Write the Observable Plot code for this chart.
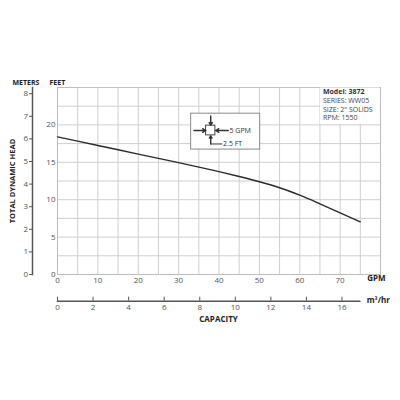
<!DOCTYPE html>
<html>
<head>
<meta charset="utf-8">
<script src="https://cdn.jsdelivr.net/npm/d3@7"></script>
<script src="https://cdn.jsdelivr.net/npm/@observablehq/plot@0.6"></script>
<style>
  html, body { margin: 0; padding: 0; background: #fff; }
  #wrap { position: relative; width: 400px; height: 400px; font-family: "Open Sans", sans-serif; }
  #wrap svg { position: absolute; left: 0; top: 0; }
</style>
</head>
<body>
<div id="wrap"></div>
<script>
// ---- data ----
const gpm  = [0, 10, 20, 30, 40, 45, 50, 55, 60, 65, 70, 75];
const head = [18.4, 17.25, 16.1, 14.95, 13.75, 13.1, 12.4, 11.6, 10.6, 9.45, 8.25, 7.05];
const gpmTicks = [0, 10, 20, 30, 40, 50, 60, 70];
const feetTicks = [0, 5, 10, 15, 20];
const meterTicks = [0, 1, 2, 3, 4, 5, 6, 7, 8];
const m3Ticks = [0, 2, 4, 6, 8, 10, 12, 14, 16];
const gridGpm = d3.range(0, 81, 5);
const gridFeet = d3.range(0, 25.1, 2.5);
const modelTitle = ["Model: 3872"];
const modelLines = ["SERIES: WW05\nSIZE: 2\" SOLIDS\nRPM: 1550"];
// grid-cell key (annotation, in GPM / feet)
const keyBox = [{x1: 33.1, x2: 50.2, y1: 16.7, y2: 21.5}];
const keySquare = [{x1: 36.8, x2: 39.1, y1: 18.6, y2: 19.9}];
const keyArrows = [
  {x1: 37.95, y1: 21.2, x2: 37.95, y2: 19.95},
  {x1: 33.8, y1: 19.25, x2: 36.75, y2: 19.25},
  {x1: 42.3, y1: 19.25, x2: 39.15, y2: 19.25},
  {x1: 37.95, y1: 17.45, x2: 37.95, y2: 18.55}
];
const keyLinks = [{x1: 37.95, y1: 17.45, x2: 40.8, y2: 17.45}];
const keyTexts = [{x: 42.6, y: 19.25, t: "5 GPM"}, {x: 41.0, y: 17.45, t: "2.5 FT"}];

const data = gpm.map((g, i) => ({gpm: g, head: head[i]}));
const W = 400, H = 400;
const mTop = 87, mBottom = 126, mLeft = 57, mRight = 20;
const dark = "#222", tickCol = "#555";

const main = Plot.plot({
  width: W, height: H,
  marginTop: mTop, marginBottom: mBottom, marginLeft: mLeft, marginRight: mRight,
  style: {fontFamily: "Open Sans", fontSize: "8px", background: "transparent", color: tickCol},
  x: {domain: [0, 80]},
  y: {domain: [0, 25]},
  marks: [
    Plot.gridX(gridGpm, {stroke: "#cfcfcf", strokeOpacity: 1}),
    Plot.gridY(gridFeet, {stroke: "#cfcfcf", strokeOpacity: 1}),
    Plot.frame({stroke: "#bdbdbd"}),
    Plot.rect([0], {x1: 65, x2: 80, y1: 20, y2: 25, fill: "white", inset: 0.5}),
    Plot.text(modelTitle, {x: 65, y: 25, dx: 3, dy: 2, lineAnchor: "top", textAnchor: "start", fontWeight: "bold", fontSize: 7, fill: "#333"}),
    Plot.text(modelLines, {x: 65, y: 25, dx: 3, dy: 10, lineAnchor: "top", textAnchor: "start", fontSize: 7, lineHeight: 1.18, fill: "#444"}),
    Plot.rect(keyBox, {x1: "x1", x2: "x2", y1: "y1", y2: "y2", fill: "white", stroke: "#8a8a8a"}),
    Plot.rect(keySquare, {x1: "x1", x2: "x2", y1: "y1", y2: "y2", fill: "white", stroke: "#444"}),
    Plot.arrow(keyArrows, {x1: "x1", y1: "y1", x2: "x2", y2: "y2", stroke: "#333", headLength: 4, strokeWidth: 1.4}),
    Plot.link(keyLinks, {x1: "x1", y1: "y1", x2: "x2", y2: "y2", stroke: "#333"}),
    Plot.text(keyTexts, {x: "x", y: "y", text: "t", textAnchor: "start", fontSize: 7, fill: "#333"}),
    Plot.line(data, {x: "gpm", y: "head", stroke: "#2b2b2b", strokeWidth: 1.4, curve: "monotone-x"}),
    Plot.axisX({ticks: gpmTicks, tickSize: 0, tickPadding: 3, label: null}),
    Plot.axisY({ticks: feetTicks, tickSize: 0, tickPadding: 2, label: null}),
    Plot.text(["GPM"], {frameAnchor: "bottom-right", textAnchor: "end", dx: 5, dy: 6, fontWeight: "bold", fontSize: 8, fill: dark}),
    Plot.text(["FEET"], {frameAnchor: "top-left", textAnchor: "start", dx: -8, dy: -7, fontWeight: "bold", fontSize: 7, fill: dark}),
    Plot.text(["METERS"], {frameAnchor: "top-left", textAnchor: "start", dx: -45, dy: -7, fontWeight: "bold", fontSize: 7, fill: dark}),
    Plot.text(["TOTAL DYNAMIC HEAD"], {frameAnchor: "left", textAnchor: "middle", dx: -45, dy: 0, rotate: -90, fontWeight: "bold", fontSize: 7.5, fill: dark})
  ]
});

// meters axis (own scale)
const meterPx = 22.6;
const meters = Plot.plot({
  width: W, height: H,
  marginTop: mTop, marginBottom: mBottom, marginLeft: 32, marginRight: mRight,
  style: {fontFamily: "Open Sans", fontSize: "8px", background: "transparent", color: tickCol},
  y: {domain: [0, (H - mTop - mBottom) / meterPx]},
  marks: [
    Plot.frame({anchor: "left", stroke: "#555", strokeWidth: 1.5}),
    Plot.axisY({ticks: meterTicks, tickSize: 3, tickPadding: 1.5, label: null, stroke: "#555"})
  ]
});

// m3/hr axis (own scale)
const axisY0 = 300.7;
const m3 = Plot.plot({
  width: W, height: H,
  marginTop: axisY0 - 4, marginBottom: H - axisY0, marginLeft: mLeft, marginRight: W - (mLeft + 17 * 17.78),
  style: {fontFamily: "Open Sans", fontSize: "8px", background: "transparent", color: tickCol},
  x: {domain: [0, 17]},
  marks: [
    Plot.frame({anchor: "bottom", stroke: "#555", strokeWidth: 1.5}),
    Plot.tickX(m3Ticks, {stroke: "#555"}),
    Plot.axisX({ticks: m3Ticks, tickSize: 0, tickPadding: 3, label: null}),
    Plot.text(["m³/hr"], {frameAnchor: "bottom-right", textAnchor: "start", dx: 7, dy: 2, fontWeight: "bold", fontSize: 8, fill: dark}),
    Plot.text(["CAPACITY"], {frameAnchor: "bottom-left", textAnchor: "middle", dx: 161, dy: 21, fontWeight: "bold", fontSize: 8, fill: dark})
  ]
});

const wrap = document.getElementById("wrap");
wrap.append(main, meters, m3);
</script>
</body>
</html>
